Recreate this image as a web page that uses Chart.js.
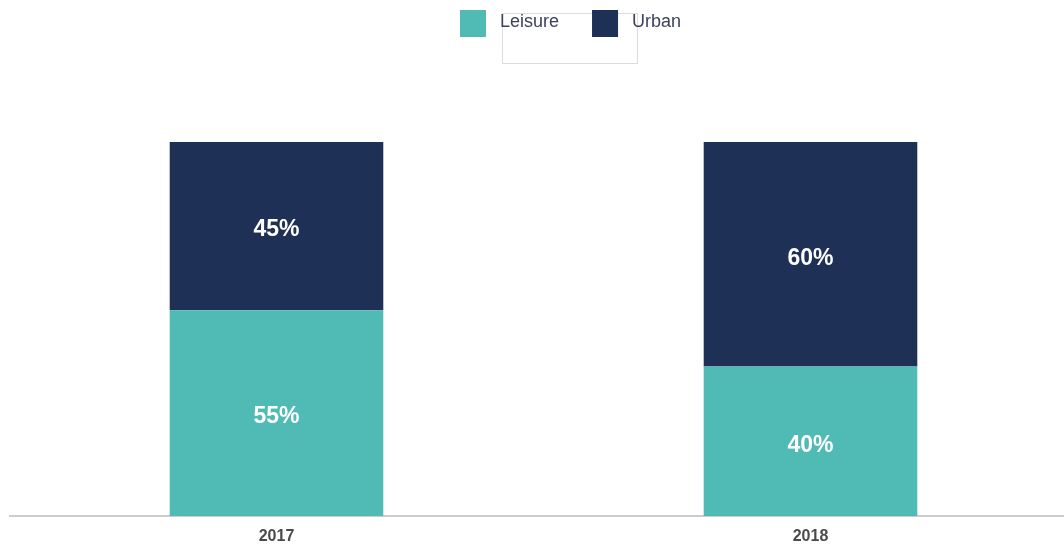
<!DOCTYPE html>
<html>
<head>
<meta charset="utf-8">
<script src="https://cdn.jsdelivr.net/npm/chart.js@4/dist/chart.umd.min.js"></script>
<style>
  html, body { margin: 0; padding: 0; background: #ffffff; overflow: hidden; }
  #wrap { width: 1078px; height: 547px; }
</style>
</head>
<body>
<div id="wrap"><canvas id="c" width="1078" height="547"></canvas></div>
<script>
// Share of stays by segment, per year (percent)
const years = ['2017', '2018'];
const leisure = [55, 40];
const urban = [45, 60];
const seriesNames = ['Leisure', 'Urban'];
const seriesColors = ['#50bab5', '#1e3056'];

// Percent labels centred inside each stacked segment
const segmentLabels = {
  id: 'segmentLabels',
  afterDatasetsDraw(chart) {
    const ctx = chart.ctx;
    ctx.save();
    ctx.fillStyle = '#ffffff';
    ctx.font = 'bold 23px "Liberation Sans", Arial, sans-serif';
    ctx.textAlign = 'center';
    ctx.textBaseline = 'middle';
    chart.data.datasets.forEach((ds, i) => {
      chart.getDatasetMeta(i).data.forEach((bar, j) => {
        const p = bar.getProps(['x', 'y', 'base'], true);
        ctx.fillText(ds.data[j] + '%', p.x, (p.y + p.base) / 2 + 4);
      });
    });
    ctx.restore();
  }
};

// Legend row across the top: square swatch + series name
const topLegend = {
  id: 'topLegend',
  afterDraw(chart) {
    const ctx = chart.ctx;
    ctx.save();
    // thin frame sitting behind the legend text
    ctx.strokeStyle = '#dcdcdc';
    ctx.lineWidth = 1;
    ctx.strokeRect(502.5, 13.5, 135, 50);
    ctx.font = '18px "Liberation Sans", Arial, sans-serif';
    ctx.textBaseline = 'middle';
    ctx.textAlign = 'left';
    let x = 460;
    chart.data.datasets.forEach((ds) => {
      ctx.fillStyle = ds.backgroundColor;
      ctx.fillRect(x, 10, 26, 27);
      ctx.fillStyle = '#3d4260';
      ctx.fillText(ds.label, x + 40, 22);
      x += 40 + ctx.measureText(ds.label).width + 33;
    });
    ctx.restore();
  }
};

new Chart(document.getElementById('c'), {
  type: 'bar',
  data: {
    labels: years,
    datasets: [
      { label: seriesNames[0], data: leisure, backgroundColor: seriesColors[0] },
      { label: seriesNames[1], data: urban, backgroundColor: seriesColors[1] }
    ]
  },
  options: {
    responsive: false,
    devicePixelRatio: 1,
    animation: false,
    layout: { padding: { top: 142, left: 9.5, right: 0.5, bottom: 0 } },
    datasets: { bar: { barPercentage: 0.4, categoryPercentage: 1.0, borderWidth: 0 } },
    plugins: {
      legend: { display: false },
      tooltip: { enabled: false }
    },
    scales: {
      x: {
        stacked: true,
        grid: { display: false, drawTicks: false },
        border: { display: true, color: '#cccccc', width: 2 },
        ticks: {
          color: '#4a4a4a',
          padding: 11,
          font: { family: '"Liberation Sans", Arial, sans-serif', size: 16, weight: 'bold' }
        },
        afterFit(scale) { scale.height = 31; }
      },
      y: {
        stacked: true,
        display: false,
        min: 0,
        max: 100
      }
    }
  },
  plugins: [segmentLabels, topLegend]
});
</script>
</body>
</html>
